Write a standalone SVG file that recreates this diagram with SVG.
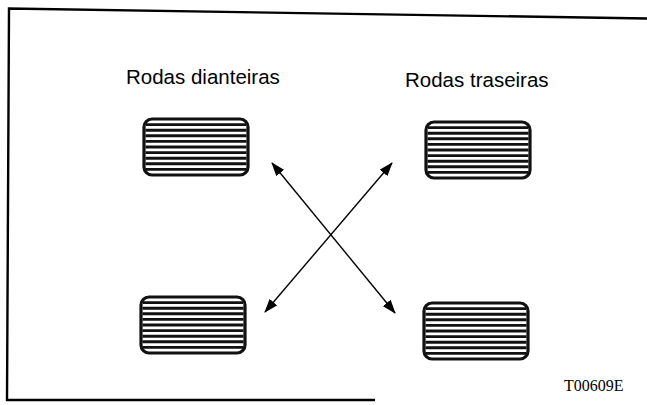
<svg xmlns="http://www.w3.org/2000/svg" width="647" height="405" viewBox="0 0 647 405">
<defs>
<style>
.frame{fill:none;stroke:#000;stroke-width:2.4}
.tire{fill:#fff;stroke:#111;stroke-width:3.2}
.stripe{stroke:#111;stroke-width:2.9}
.lbl{font-family:"Liberation Sans",Arial,sans-serif;font-size:20.5px;fill:#000}
.code{font-family:"Liberation Serif","Times New Roman",serif;font-size:16px;fill:#000}
.arr{stroke:#000;stroke-width:1.4;fill:none;marker-start:url(#ah);marker-end:url(#ah)}
</style>
<marker id="ah" viewBox="0 0 14 10" refX="13" refY="5" markerWidth="14" markerHeight="10" markerUnits="userSpaceOnUse" orient="auto-start-reverse">
<path d="M0,0 L14,5 L0,10 Z" fill="#000"/>
</marker>
<g id="tireShape">
<rect class="tire" x="0" y="0" width="104" height="56" rx="8" ry="8"/>
<line class="stripe" x1="2" y1="5.6" x2="102" y2="5.6"/>
<line class="stripe" x1="1.5" y1="11.2" x2="102.5" y2="11.2"/>
<line class="stripe" x1="1.5" y1="16.8" x2="102.5" y2="16.8"/>
<line class="stripe" x1="1.5" y1="22.4" x2="102.5" y2="22.4"/>
<line class="stripe" x1="1.5" y1="28" x2="102.5" y2="28"/>
<line class="stripe" x1="1.5" y1="33.6" x2="102.5" y2="33.6"/>
<line class="stripe" x1="1.5" y1="39.2" x2="102.5" y2="39.2"/>
<line class="stripe" x1="1.5" y1="44.8" x2="102.5" y2="44.8"/>
<line class="stripe" x1="2" y1="50.4" x2="102" y2="50.4"/>
</g>
</defs>
<rect width="647" height="405" fill="#fff"/>
<g id="frame">
<path class="frame" d="M647,18.5 L9,8.5 L7,400 L375,400"/>
</g>
<g id="label-front"><text class="lbl" x="126" y="84">Rodas dianteiras</text></g>
<g id="label-rear"><text class="lbl" x="405" y="87">Rodas traseiras</text></g>
<g id="tire-front-top"><use href="#tireShape" x="144" y="119"/></g>
<g id="tire-rear-top"><use href="#tireShape" x="426" y="122"/></g>
<g id="tire-front-bottom"><use href="#tireShape" x="141" y="297"/></g>
<g id="tire-rear-bottom"><use href="#tireShape" x="424" y="303"/></g>
<g id="connectors">
<line class="arr" x1="272" y1="163" x2="395" y2="313"/>
<line class="arr" x1="392" y1="163" x2="265" y2="312"/>
</g>
<g id="code"><text class="code" x="564" y="391">T00609E</text></g>
</svg>
